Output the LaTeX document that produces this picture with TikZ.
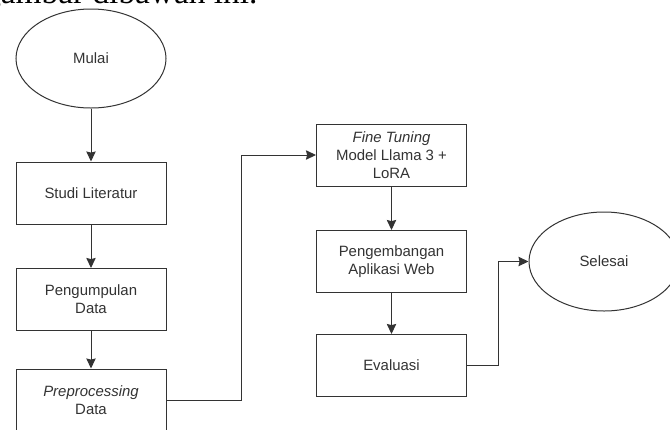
\documentclass[tikz,border=0pt]{standalone}
\usepackage{fontspec}
\setmainfont{Liberation Sans}
\newfontfamily\serifdoc{Liberation Serif}
\usetikzlibrary{shapes.geometric,arrows.meta}
\definecolor{ln}{HTML}{333333}
\begin{document}
\begin{tikzpicture}[x=0.75pt,y=-0.75pt,
  every node/.style={font=\fontsize{11.2}{13.7}\selectfont, text=ln},
  stepbox/.style={draw=ln, line width=0.75pt, rectangle, minimum width=112.5pt, minimum height=46.5pt, inner sep=0pt, align=center},
  oval/.style={draw=ln, line width=0.75pt, ellipse, minimum width=112.5pt, minimum height=74.25pt, inner sep=0pt},
  arr/.style={draw=ln, line width=0.75pt, -{Stealth[length=7.5pt,width=7pt,inset=0.8pt]}}]
\useasboundingbox (0,0) rectangle (670,429);
\clip (0,0) rectangle (670,429);
\fill[white] (0,0) rectangle (670,429);
\node[anchor=base west, inner sep=0pt, text=black, font=\serifdoc\fontsize{25}{28}\selectfont] (cap) at (-16,3.5) {gambar dibawah ini.};
\node[oval] (mulai) at (91,58.5) {Mulai};
\node[stepbox] (studi) at (91,193) {Studi Literatur};
\node[stepbox] (kumpul) at (91,299.5) {Pengumpulan\\Data};
\node[stepbox] (pre) at (91,400) {\textit{Preprocessing}\\Data};
\node[stepbox] (ft) at (391.5,155) {\textit{Fine Tuning}\\Model Llama 3 +\\LoRA};
\node[stepbox] (web) at (391.5,261.5) {Pengembangan\\Aplikasi Web};
\node[stepbox] (eval) at (391.5,365.5) {Evaluasi};
\node[oval] (selesai) at (604,261.5) {Selesai};
\coordinate (b1) at (241,400);
\coordinate (b2) at (498,365.5);
\draw[arr] (mulai) -- (studi);
\draw[arr] (studi) -- (kumpul);
\draw[arr] (kumpul) -- (pre);
\draw[arr] (pre.east) -- (b1) |- (ft.west);
\draw[arr] (ft) -- (web);
\draw[arr] (web) -- (eval);
\draw[arr] (eval.east) -- (b2) |- (selesai.west);
\end{tikzpicture}
\end{document}
